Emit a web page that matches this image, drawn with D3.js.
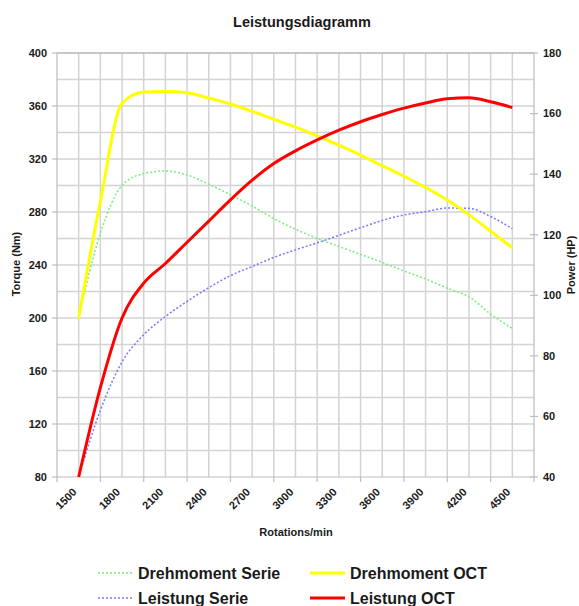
<!DOCTYPE html>
<meta charset="utf-8">
<title>Leistungsdiagramm</title>
<style>
  body { margin: 0; background-color: #fff; }
  text { font-family: "Liberation Sans", Arial, sans-serif; font-weight: bold; fill: #1a1a1a; }
</style>
<body>
<script src="https://d3js.org/d3.v7.min.js"></script>
<script>

// rpm steps of the measurement
const rpm = [1500, 1650, 1800, 1950, 2100, 2250, 2400, 2550, 2700, 2850, 3000,
  3150, 3300, 3450, 3600, 3750, 3900, 4050, 4200, 4350, 4500];

// torque (Nm)
const drehmomentSerie = [200, 264, 300, 309, 311, 308, 301, 293, 284.5, 275, 267,
  260, 254, 248, 242, 235.5, 229.5, 222.5, 216, 203, 192];
const drehmomentOCT = [200, 288, 362, 370.5, 371, 370, 366, 361.5, 356, 350, 344,
  337.5, 330.5, 323, 315, 307, 298.5, 289, 278, 265.5, 253];

// power (HP)
const leistungSerie = [40, 62, 78, 87, 93, 98, 102.5, 106.5, 109.5, 112.5, 115,
  117.3, 119.8, 122.3, 124.7, 126.5, 127.6, 128.8, 128.7, 126, 122];
const leistungOCT = [40, 69.5, 92.5, 104, 110.5, 117.5, 124.5, 131.5, 138, 143.5, 147.7,
  151.3, 154.5, 157.3, 159.7, 161.8, 163.5, 164.9, 165.2, 163.9, 162];

const xLabels = [1500, 1800, 2100, 2400, 2700, 3000, 3300, 3600, 3900, 4200, 4500];
const torqueTicks = [80, 120, 160, 200, 240, 280, 320, 360, 400];
const powerTicks = [40, 60, 80, 100, 120, 140, 160, 180];

const width = 579,
  height = 606,
  plotLeft = 57, plotRight = 534, plotTop = 53, plotBottom = 477;

const svg = d3.select("body").append("svg")
    .attr("width", width)
    .attr("height", height);

const x = d3.scaleLinear().domain([1350, 4650]).range([plotLeft, plotRight]);
const yT = d3.scaleLinear().domain([80, 400]).range([plotBottom, plotTop]);
const yP = d3.scaleLinear().domain([40, 180]).range([plotBottom, plotTop]);

// grid
const grid = svg.append("g").attr("stroke", "#d3d3d3").attr("stroke-width", 1.5);
grid.selectAll(".v")
    .data(d3.range(1500, 4501, 150))
  .enter().append("line")
    .attr("x1", d => x(d)).attr("x2", d => x(d))
    .attr("y1", plotTop).attr("y2", plotBottom);
grid.selectAll(".h")
    .data(d3.range(100, 400, 20))
  .enter().append("line")
    .attr("x1", plotLeft).attr("x2", plotRight)
    .attr("y1", d => yT(d)).attr("y2", d => yT(d));

svg.append("line")
    .attr("x1", plotLeft).attr("x2", plotRight)
    .attr("y1", plotTop).attr("y2", plotTop)
    .attr("stroke", "#b4b4b4").attr("stroke-width", 1.5);

// axes
const axisColor = "#bdbdbd";
svg.append("g").attr("stroke", axisColor).attr("stroke-width", 1.2)
  .call(g => {
    g.append("line").attr("x1", plotLeft).attr("x2", plotLeft).attr("y1", plotTop).attr("y2", plotBottom);
    g.append("line").attr("x1", plotRight).attr("x2", plotRight).attr("y1", plotTop).attr("y2", plotBottom);
    g.append("line").attr("x1", plotLeft).attr("x2", plotRight).attr("y1", plotBottom).attr("y2", plotBottom);
    g.selectAll(".tl").data(torqueTicks).enter().append("line")
      .attr("x1", plotLeft - 5).attr("x2", plotLeft).attr("y1", d => yT(d)).attr("y2", d => yT(d));
    g.selectAll(".tr").data(powerTicks).enter().append("line")
      .attr("x1", plotRight - 4).attr("x2", plotRight + 4).attr("y1", d => yP(d)).attr("y2", d => yP(d));
    g.selectAll(".tb").data(d3.range(1350, 4651, 300)).enter().append("line")
      .attr("x1", d => x(d)).attr("x2", d => x(d)).attr("y1", plotBottom).attr("y2", plotBottom + 5);
  });

svg.selectAll(".lt")
    .data(torqueTicks)
  .enter().append("text")
    .attr("x", 47)
    .attr("y", d => yT(d))
    .attr("dy", "0.35em")
    .attr("text-anchor", "end")
    .style("font-size", "11px")
    .text(d => d);

svg.selectAll(".rt")
    .data(powerTicks)
  .enter().append("text")
    .attr("x", 543)
    .attr("y", d => yP(d))
    .attr("dy", "0.35em")
    .style("font-size", "11px")
    .text(d => d);

svg.selectAll(".xt")
    .data(xLabels)
  .enter().append("text")
    .attr("transform", d => `translate(${x(d) - 4},490) rotate(-45)`)
    .attr("dy", "0.35em")
    .attr("text-anchor", "end")
    .style("font-size", "11px")
    .text(d => d);

svg.append("text")
    .attr("x", 296).attr("y", 536)
    .attr("text-anchor", "middle")
    .style("font-size", "11px")
    .text("Rotations/min");

svg.append("text")
    .attr("transform", "translate(20,264) rotate(-90)")
    .attr("text-anchor", "middle")
    .style("font-size", "11px")
    .text("Torque (Nm)");

svg.append("text")
    .attr("transform", "translate(575,265) rotate(-90)")
    .attr("text-anchor", "middle")
    .style("font-size", "11px")
    .text("Power (HP)");

svg.append("text")
    .attr("x", 302).attr("y", 27)
    .attr("text-anchor", "middle")
    .style("font-size", "14.5px")
    .text("Leistungsdiagramm");

// series
const series = [
  { name: "Drehmoment Serie", values: drehmomentSerie, y: yT, color: "#77ee77", w: 1.5, dash: "2,2" },
  { name: "Leistung Serie", values: leistungSerie, y: yP, color: "#7777ff", w: 1.5, dash: "2,2" },
  { name: "Drehmoment OCT", values: drehmomentOCT, y: yT, color: "#ffff00", w: 3, dash: null },
  { name: "Leistung OCT", values: leistungOCT, y: yP, color: "#ff0000", w: 3, dash: null }
];

series.forEach(s => {
  const line = d3.line()
    .x((d, i) => x(rpm[i]))
    .y(d => s.y(d))
    .curve(d3.curveMonotoneX);
  svg.append("path")
      .attr("d", line(s.values))
      .attr("fill", "none")
      .attr("stroke", s.color)
      .attr("stroke-width", s.w)
      .attr("stroke-dasharray", s.dash);
});

// legend
const legendPos = [[98, 573], [98, 598], [310, 573], [310, 598]];
series.forEach((s, i) => {
  const [lx, ly] = legendPos[i];
  svg.append("line")
      .attr("x1", lx).attr("x2", lx + 35)
      .attr("y1", ly).attr("y2", ly)
      .attr("stroke", s.color)
      .attr("stroke-width", s.w)
      .attr("stroke-dasharray", s.dash);
  svg.append("text")
      .attr("x", lx + 40).attr("y", ly)
      .attr("dy", "0.35em")
      .style("font-size", "16px")
      .text(s.name);
});

</script>
